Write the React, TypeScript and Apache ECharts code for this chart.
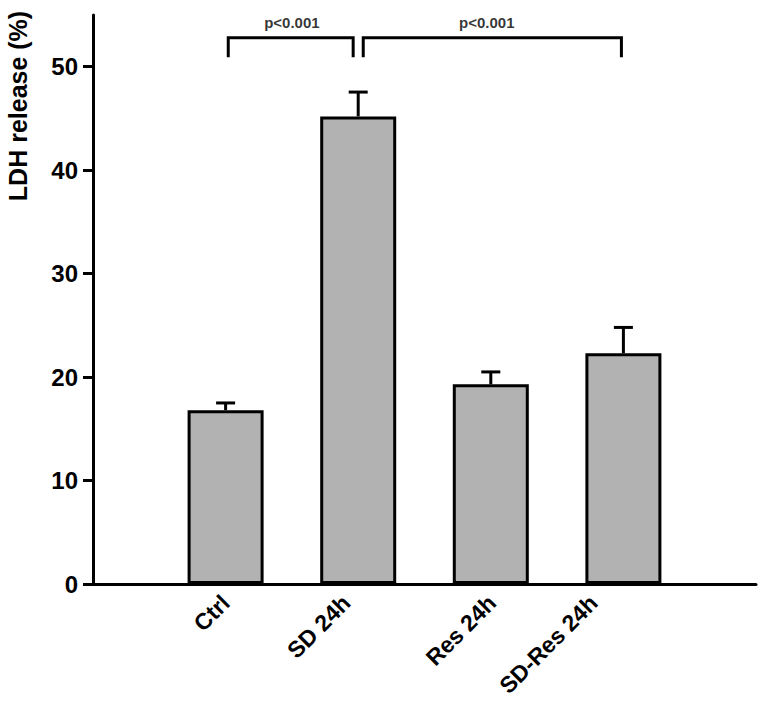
import React, { useEffect, useRef } from "react";
import * as echarts from "echarts";

const categories = ["Ctrl", "SD 24h", "Res 24h", "SD-Res 24h"];
const means = [16.8, 45.2, 19.3, 22.3];
const errorTops = [17.5, 47.55, 20.5, 24.8];
const yTicks = [0, 10, 20, 30, 40, 50];
const comparisons = [
  { from: 1, to: 2, label: "p<0.001", labelX: 1.5 },
  { from: 2, to: 4, label: "p<0.001", labelX: 2.97 },
];
const bracketLow = 51.05;
const bracketHigh = 52.8;
const bracketLabelY = 54.3;
// horizontal nudge of each category label (axis units), a styling choice
const labelShift = [0, -0.09, 0.01, -0.225];

const FONT = "'Liberation Sans', Arial, sans-serif";

export default function App() {
  const ref = useRef<HTMLDivElement>(null);

  useEffect(() => {
    if (!ref.current) return;
    const chart = echarts.init(ref.current, undefined, { renderer: "svg" });

    const barData = means.map((v, i) => [i + 1, v]);
    const errData = means.map((v, i) => [i + 1, v, errorTops[i]]);

    const bracketSeries = comparisons.map((c, k) => {
      const x1 = c.from + (k === 0 ? 0.02 : 0.038);
      const x2 = c.to + (k === 0 ? -0.038 : -0.015);
      return {
        type: "line",
        silent: true,
        symbol: "none",
        lineStyle: { color: "#000", width: 3, cap: "square", join: "miter" },
        data: [
          [x1, bracketLow],
          [x1, bracketHigh],
          [x2, bracketHigh],
          [x2, bracketLow],
        ],
        z: 5,
      };
    });

    const labelSeries = {
      type: "scatter",
      silent: true,
      symbolSize: 1,
      itemStyle: { color: "rgba(0,0,0,0)" },
      label: {
        show: true,
        position: "inside",
        formatter: (p: any) => comparisons[p.dataIndex].label,
        color: "#000",
        fontFamily: FONT,
        fontWeight: "bold",
        fontSize: 15,
      },
      data: comparisons.map((c) => [c.labelX, bracketLabelY]),
      z: 6,
    };

    const labelPositions = categories.map((_, i) => i + 1 + labelShift[i]);

    chart.setOption({
      animation: false,
      grid: { left: 93, right: 3, top: 15, bottom: 121 },
      xAxis: {
        type: "value",
        min: 0,
        max: 5,
        interval: 1,
        splitLine: { show: false },
        axisTick: { show: false },
        axisLine: { show: true, lineStyle: { color: "#000", width: 3 } },
        axisLabel: {
          rotate: 45,
          margin: 15,
          color: "#000",
          fontFamily: FONT,
          fontWeight: "bold",
          fontSize: 23,
          customValues: labelPositions,
          formatter: (v: number) => categories[Math.round(v) - 1] ?? "",
        },
      },
      yAxis: {
        type: "value",
        min: 0,
        max: 55,
        interval: 10,
        splitLine: { show: false },
        axisLine: { show: true, lineStyle: { color: "#000", width: 3 } },
        axisTick: {
          show: true,
          length: 10,
          lineStyle: { color: "#000", width: 3 },
          customValues: yTicks,
        },
        axisLabel: {
          margin: 15,
          color: "#000",
          fontFamily: FONT,
          fontWeight: "bold",
          fontSize: 24,
          customValues: yTicks,
        },
      },
      graphic: [
        {
          type: "text",
          x: 18,
          y: 106,
          rotation: Math.PI / 2,
          style: {
            text: "LDH release (%)",
            fill: "#000",
            font: `bold 25px ${FONT}`,
            textAlign: "center",
            textVerticalAlign: "middle",
          },
        },
      ],
      series: [
        {
          type: "bar",
          barWidth: 76,
          data: barData,
          itemStyle: { color: "#b2b2b2", borderColor: "#000", borderWidth: 3 },
          z: 3,
        },
        {
          type: "custom",
          silent: true,
          data: errData,
          encode: { x: 0, y: [1, 2] },
          renderItem: (params: any, api: any) => {
            const x = api.value(0);
            const base = api.coord([x, api.value(1)]);
            const top = api.coord([x, api.value(2)]);
            const half = 9.5;
            return {
              type: "group",
              children: [
                {
                  type: "line",
                  shape: { x1: base[0], y1: base[1], x2: top[0], y2: top[1] },
                  style: { stroke: "#000", lineWidth: 3 },
                },
                {
                  type: "line",
                  shape: { x1: top[0] - half, y1: top[1], x2: top[0] + half, y2: top[1] },
                  style: { stroke: "#000", lineWidth: 3 },
                },
              ],
            };
          },
          z: 2,
        },
        ...bracketSeries,
        labelSeries,
      ],
    } as any);

    return () => chart.dispose();
  }, []);

  return (
    <div
      ref={ref}
      style={{ position: "fixed", left: 0, top: 0, width: 759, height: 705, background: "#fff" }}
    />
  );
}
